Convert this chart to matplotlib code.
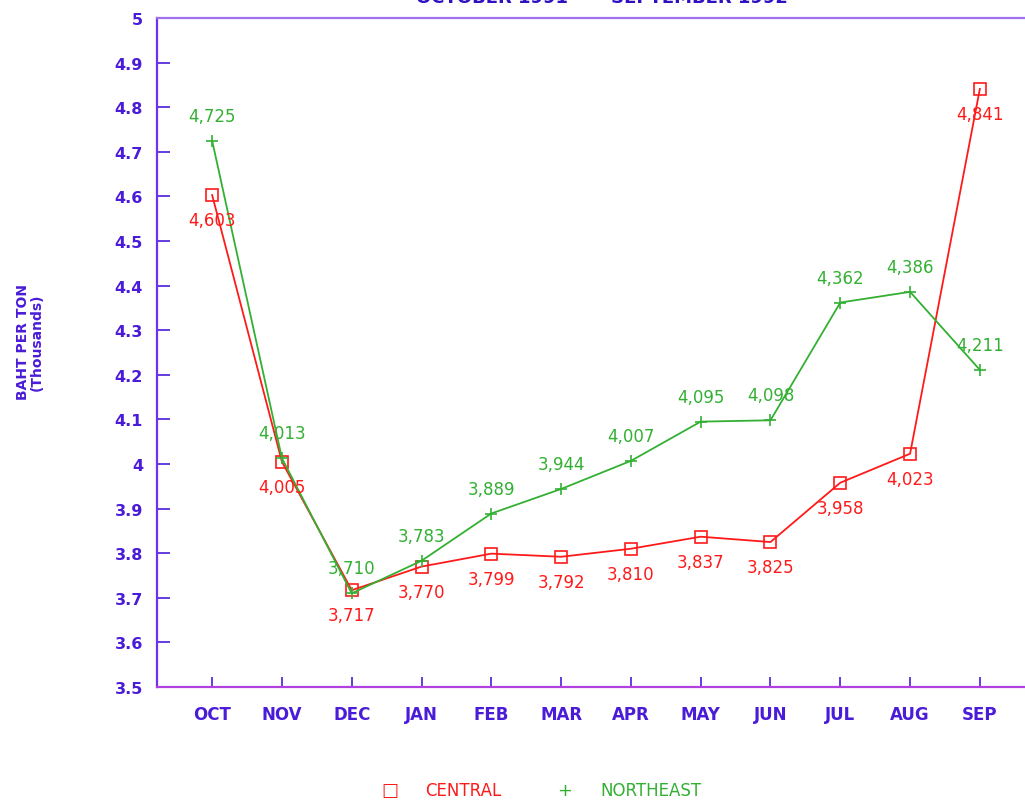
import matplotlib
matplotlib.use("Agg")
import matplotlib.pyplot as plt

# monthly prices, baht per ton (thousands)
months = ["OCT", "NOV", "DEC", "JAN", "FEB", "MAR", "APR", "MAY", "JUN", "JUL", "AUG", "SEP"]
central = [4603, 4005, 3717, 3770, 3799, 3792, 3810, 3837, 3825, 3958, 4023, 4841]
northeast = [4725, 4013, 3710, 3783, 3889, 3944, 4007, 4095, 4098, 4362, 4386, 4211]
# +1 puts a label above the point, -1 below
central_side = [-1, -1, -1, -1, -1, -1, -1, -1, -1, -1, -1, -1]
northeast_side = [1, 1, 1, 1, 1, 1, 1, 1, 1, 1, 1, 1]

red = "#ff1a1a"
green = "#33b033"
blue = "#4a1cd8"

fig = plt.figure(figsize=(10.25, 8.03), dpi=100)
ax = fig.add_axes([157 / 1025, 115 / 803, 878 / 1025, 669 / 803])

x = list(range(len(months)))
c = [v / 1000 for v in central]
n = [v / 1000 for v in northeast]

ax.plot(x, c, color=red, lw=1.3, marker="s", ms=8, mfc="none", mec=red, mew=1.2)
ax.plot(x, n, color=green, lw=1.3, marker="+", ms=9, mew=1.2)

for i in x:
    ax.annotate(f"{central[i]:,}", (i, c[i]), xytext=(0, 18 * central_side[i]),
                textcoords="offset points", ha="center", va="center",
                color=red, fontsize=12)
    ax.annotate(f"{northeast[i]:,}", (i, n[i]), xytext=(0, 18 * northeast_side[i]),
                textcoords="offset points", ha="center", va="center",
                color=green, fontsize=12)

ax.set_xlim(-0.79, 11.79)
ax.set_ylim(3.5, 5.0)
ax.set_xticks(x)
ax.set_xticklabels(months, fontweight="bold", fontsize=12, color=blue)
yt = [3.5 + 0.1 * k for k in range(16)]
ax.set_yticks(yt)
ax.set_yticklabels([f"{round(v, 1):g}" for v in yt], fontweight="bold", fontsize=11.5, color=blue)
ax.tick_params(axis="y", direction="in", length=9, width=1.2, color=blue, pad=10)
ax.tick_params(axis="x", direction="in", length=7, width=1.2, color=blue, pad=13)

ax.spines["left"].set_color("#7030f0")
ax.spines["bottom"].set_color("#b040e0")
ax.spines["top"].set_color("#a070f0")
ax.spines["right"].set_visible(False)
for s in ax.spines.values():
    s.set_linewidth(1.6)

fig.text(30 / 1025, 1 - 342 / 803, "BAHT PER TON\n(Thousands)", rotation=90, ha="center",
         va="center", color=blue, fontweight="bold", fontsize=10, linespacing=1.0)

# title sits mostly above the top edge, as in the source scan
fig.text(0.587, 1.003, "OCTOBER 1991  \u2014  SEPTEMBER 1992", ha="center", va="center",
         color="#3010c0", fontweight="bold", fontsize=13)

# legend drawn as text along the bottom
fig.text(390 / 1025, 12 / 803, "\u25a1", color=red, fontsize=13, ha="center", va="center")
fig.text(425 / 1025, 12 / 803, "CENTRAL", color=red, fontsize=12, va="center")
fig.text(565 / 1025, 12 / 803, "+", color=green, fontsize=13, ha="center", va="center")
fig.text(600 / 1025, 12 / 803, "NORTHEAST", color=green, fontsize=12, va="center")

fig.savefig("out.png", dpi=100)
